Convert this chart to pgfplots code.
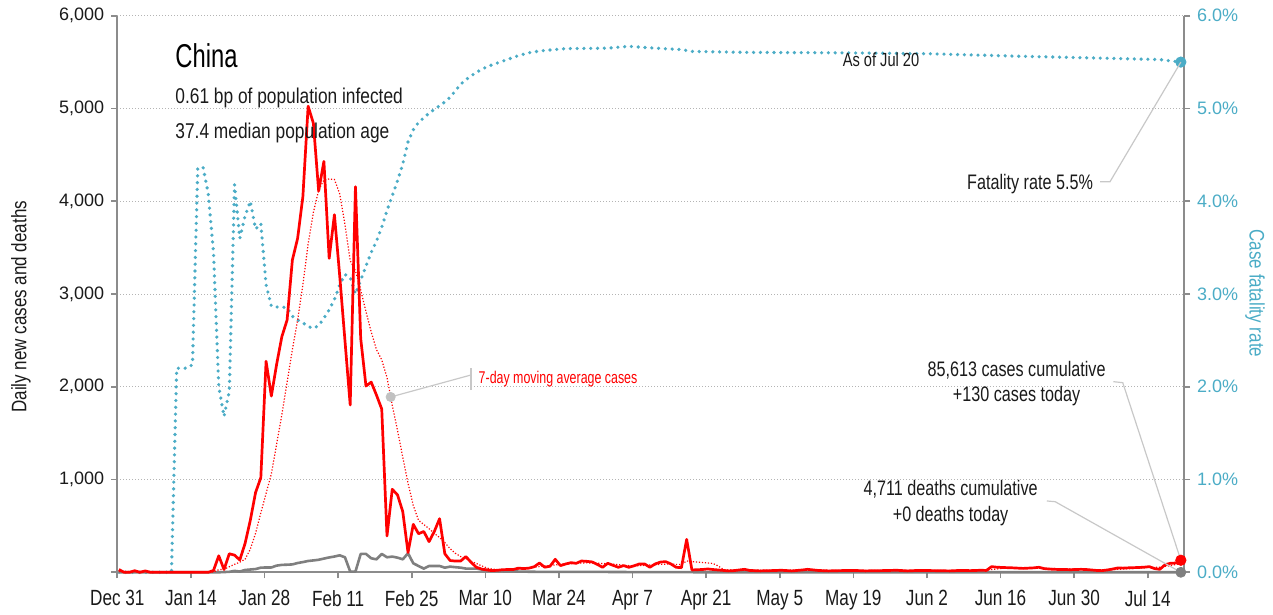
\documentclass[border=0pt]{standalone}
\usepackage{fontspec}
\setmainfont{Liberation Sans}
\newfontfamily\cond[FakeStretch=0.77]{Liberation Sans}
\newfontfamily\condn[FakeStretch=0.73]{Liberation Sans}
\newfontfamily\condw[FakeStretch=0.81]{Liberation Sans}
\newfontfamily\condx[FakeStretch=0.78]{Liberation Sans}
\newfontfamily\condt[FakeStretch=0.72]{Liberation Sans}
\usepackage{pgfplots}
\pgfplotsset{compat=1.18}
\definecolor{axgray}{HTML}{8C8C8C}
\definecolor{gridgray}{HTML}{B4B4B4}
\definecolor{tealc}{HTML}{4BACC6}
\definecolor{txt}{HTML}{1A1A1A}
\definecolor{deathc}{HTML}{7F7F7F}
\definecolor{conn}{HTML}{C8C8C8}
\begin{document}
\begin{tikzpicture}
\path[use as bounding box] (-58.65pt,-21.35pt) rectangle (577.85pt,286.15pt);
% ---------- right axis: case fatality rate ----------
\begin{axis}[
  at={(0,0)}, anchor=south west, scale only axis,
  width=533.35pt, height=278.3pt,
  xmin=-0.3, xmax=202.6, ymin=0, ymax=6,
  axis x line=none, axis y line*=right,
  clip=false,
  ytick={0,1,2,3,4,5,6},
  yticklabels={0.0\%,1.0\%,2.0\%,3.0\%,4.0\%,5.0\%,6.0\%},
  yticklabel style={font=\fontsize{9}{10}\selectfont, text=tealc},
  tick align=outside, major tick length=3pt,
  tick style={draw=axgray, line width=0.8pt},
  axis line style={draw=axgray, line width=0.9pt},
  ymajorgrids, grid style={draw=gridgray, line width=0.5pt, dash pattern=on 0.5pt off 1pt},
]
\addplot[tealc, line width=1.8pt, dash pattern=on 0pt off 3.4pt, line cap=round] coordinates {
(0,0)(10,0)(11,2.2)(12,2.2)(13,2.2)(14,2.24)(15,4.35)(16,4.37)(17,4.08)(18,3.45)(19,2.0)(20,1.68)(21,1.95)(22,4.18)(23,3.6)(24,3.84)(25,4.0)(26,3.7)(27,3.76)(28,3.1)(29,2.87)(30,2.86)(31,2.86)(32,2.85)(33,2.76)(34,2.72)(35,2.69)(36,2.65)(37,2.63)(38,2.66)(39,2.74)(40,2.83)(41,2.94)(42,3.1)(43,3.21)(44,3.18)(45,3.0)(46,3.15)(47,3.30)(48,3.45)(49,3.57)(50,3.72)(51,3.90)(52,4.06)(53,4.22)(54,4.40)(55,4.64)(56,4.77)(57,4.85)(58,4.90)(59,4.95)(60,4.99)(61,5.03)(62,5.07)(63,5.12)(64,5.19)(65,5.26)(66,5.31)(67,5.35)(68,5.39)(69,5.42)(70,5.45)(71,5.47)(72,5.49)(73,5.51)(74,5.53)(76,5.57)(78,5.60)(80,5.62)(85,5.645)(93,5.65)(97,5.67)(102,5.65)(107,5.635)(109,5.615)(119,5.605)(137,5.60)(154,5.59)(172,5.562)(185,5.545)(198,5.527)(202,5.50)
};
\addplot[only marks, mark=*, mark size=2.6pt, tealc] coordinates {(202,5.5)};
\node[rotate=-90, text=tealc, font=\condw\fontsize{10.5}{12}\selectfont, anchor=center]
  at ([xshift=35.5pt]rel axis cs:1,0.501) {Case fatality rate};
\end{axis}
% ---------- left axis: daily cases and deaths ----------
\begin{axis}[
  at={(0,0)}, anchor=south west, scale only axis,
  width=533.35pt, height=278.3pt,
  xmin=-0.3, xmax=202.6, ymin=0, ymax=6000,
  axis x line*=bottom, axis y line*=left,
  clip=false,
  xtick={-0.3,13.7,27.7,41.7,55.7,69.7,83.7,97.7,111.7,125.7,139.7,153.7,167.7,181.7,195.7},
  xticklabels={Dec 31,Jan 14,Jan 28,Feb 11,Feb 25,Mar 10,Mar 24,Apr 7,Apr 21,May 5,May 19,Jun 2,Jun 16,Jun 30,Jul 14},
  xticklabel style={font=\condx\fontsize{11}{12}\selectfont, text=txt, yshift=-2.5pt},
  ytick={0,1000,2000,3000,4000,5000,6000},
  yticklabels={{},{1,000},{2,000},{3,000},{4,000},{5,000},{6,000}},
  yticklabel style={font=\fontsize{9}{10}\selectfont, text=txt},
  tick align=outside, major tick length=3pt,
  tick style={draw=axgray, line width=0.8pt},
  axis line style={draw=axgray, line width=0.9pt},
]
% deaths
\addplot[deathc, line width=1.3pt, line join=round] coordinates {
(0,0)(19,0)(20,3)(21,5)(22,15)(23,8)(24,25)(25,30)(26,35)(27,50)(28,52)(29,52)(30,72)(31,80)(32,82)(33,85)(34,100)(35,110)(36,122)(37,128)(38,135)(39,148)(40,160)(41,170)(42,183)(43,162)(44,8)(45,8)(46,198)(47,198)(48,151)(49,140)(50,198)(51,162)(52,169)(53,158)(54,140)(55,205)(56,97)(57,68)(58,40)(59,68)(60,68)(61,68)(62,50)(63,61)(64,55)(65,50)(66,40)(67,40)(68,40)(69,30)(70,25)(71,20)(72,15)(73,12)(74,10)(75,10)(76,8)(77,8)(78,6)(80,5)(85,5)(90,5)(95,3)(100,2)(110,1)(120,0)(202,0)
};
% 7-day moving average of cases
\addplot[red, line width=0.6pt, dash pattern=on 0.6pt off 0.9pt] coordinates {
(0,8)(5,8)(9,6)(10,2)(11,0)(17,0)(18,3)(19,28)(20,32)(21,60)(22,86)(23,110)(24,140)(25,250)(26,420)(27,640)(28,850)(29,1060)(30,1380)(31,1700)(32,2050)(33,2400)(34,2720)(35,3100)(36,3540)(37,3880)(38,4120)(39,4230)(40,4240)(41,4235)(42,4080)(43,3750)(44,3360)(45,3250)(46,3043)(47,2810)(48,2590)(49,2400)(50,2290)(51,2100)(52,1800)(53,1530)(54,1240)(55,960)(56,720)(57,560)(58,515)(59,470)(60,420)(61,375)(62,320)(63,255)(64,205)(65,170)(66,148)(67,120)(68,95)(69,70)(70,45)(71,35)(72,28)(73,27)(74,28)(75,30)(76,35)(77,40)(78,45)(79,55)(80,62)(81,68)(82,73)(83,80)(84,85)(85,88)(86,92)(87,96)(88,100)(89,102)(90,100)(91,98)(92,95)(93,92)(94,88)(95,82)(96,76)(97,72)(98,70)(99,72)(100,75)(101,78)(102,80)(103,85)(104,88)(105,90)(106,85)(107,85)(108,122)(109,115)(110,110)(111,105)(112,100)(113,95)(114,68)(115,30)(116,25)(120,22)(130,22)(140,20)(150,20)(160,20)(165,22)(166,30)(168,42)(172,50)(176,42)(180,38)(184,30)(188,25)(190,32)(194,45)(196,52)(198,55)(200,72)(202,95)
};
% daily cases
\addplot[red, line width=1.35pt, line join=round] coordinates {
(0,30)(1,0)(2,0)(3,17)(4,0)(5,15)(6,0)(17,0)(18,20)(19,178)(20,30)(21,200)(22,185)(23,133)(24,310)(25,560)(26,860)(27,1020)(28,2275)(29,1900)(30,2240)(31,2540)(32,2720)(33,3366)(34,3600)(35,4050)(36,5025)(37,4840)(38,4110)(39,4430)(40,3384)(41,3855)(42,3200)(43,2500)(44,1804)(45,4157)(46,2520)(47,2008)(48,2050)(49,1910)(50,1760)(51,392)(52,895)(53,834)(54,654)(55,213)(56,517)(57,416)(58,440)(59,331)(60,440)(61,578)(62,200)(63,127)(64,121)(65,121)(66,170)(67,107)(68,54)(69,35)(70,25)(71,18)(72,22)(73,28)(74,30)(75,30)(76,45)(77,40)(78,45)(79,60)(80,100)(81,55)(82,65)(83,140)(84,72)(85,90)(86,104)(87,97)(88,122)(89,118)(90,112)(91,85)(92,54)(93,97)(94,75)(95,54)(96,72)(97,54)(98,70)(99,90)(100,90)(101,54)(102,90)(103,110)(104,115)(105,90)(106,54)(107,50)(108,355)(109,25)(110,28)(111,30)(112,36)(113,30)(114,25)(115,20)(116,15)(117,18)(118,25)(119,32)(120,20)(122,15)(124,18)(126,22)(128,15)(130,25)(131,32)(133,20)(135,15)(137,18)(140,20)(142,15)(145,18)(148,22)(150,15)(152,20)(155,18)(158,15)(160,20)(162,18)(164,22)(165,20)(166,61)(167,55)(168,52)(169,50)(170,48)(171,45)(172,42)(173,45)(174,48)(175,54)(176,40)(177,35)(178,32)(179,30)(180,30)(181,28)(182,30)(183,32)(184,30)(185,25)(186,20)(187,18)(188,25)(189,35)(190,47)(191,45)(192,48)(193,50)(194,52)(195,55)(196,61)(197,40)(198,32)(199,82)(200,97)(201,100)(202,130)
};
% end markers
\addplot[only marks, mark=*, mark size=2.5pt, deathc] coordinates {(202,0)};
\addplot[only marks, mark=*, mark size=2.6pt, red] coordinates {(202,130)};
\addplot[only marks, mark=*, mark size=2.3pt, conn!90!gray] coordinates {(51.7,1890)};
% annotation connectors
\draw[conn, line width=0.6pt] (axis cs:51.7,1890) -- (axis cs:66.98,2127);
\draw[conn, line width=0.7pt] (axis cs:66.98,1965) -- (axis cs:66.98,2199);
\draw[conn, line width=0.6pt] (axis cs:186.63,4211) -- (axis cs:188.53,4211) -- (axis cs:202,5500);
\draw[conn, line width=0.6pt] (axis cs:189.16,2055) -- (axis cs:190.95,2044) -- (axis cs:202,130);
\draw[conn, line width=0.6pt] (axis cs:176.5,769) -- (axis cs:178.1,761) -- (axis cs:202,0);
% texts
\node[anchor=base west, inner sep=0, text=red, font=\condn\fontsize{8.5}{10}\selectfont] at (axis cs:68.37,2037) {7-day moving average cases};
\node[anchor=base west, inner sep=0, text=black, font=\condt\fontsize{16.5}{18}\selectfont] at (axis cs:10.68,5444) {China};
\node[anchor=base west, inner sep=0, text=txt, font=\condw\fontsize{10.7}{12}\selectfont] at (axis cs:10.68,5056) {0.61 bp of population infected};
\node[anchor=base west, inner sep=0, text=txt, font=\condw\fontsize{10.7}{12}\selectfont] at (axis cs:10.68,4671) {37.4 median population age};
\node[anchor=base, inner sep=0, text=txt, font=\cond\fontsize{9.5}{11}\selectfont] at (axis cs:144.97,5451) {As of Jul 20};
\node[anchor=base east, inner sep=0, text=txt, font=\cond\fontsize{10.5}{12}\selectfont] at (axis cs:185.36,4129) {Fatality rate 5.5\%};
\node[anchor=base, inner sep=0, text=txt, font=\cond\fontsize{10.5}{12}\selectfont] at (axis cs:170.75,2109) {85,613 cases cumulative};
\node[anchor=base, inner sep=0, text=txt, font=\cond\fontsize{10.5}{12}\selectfont] at (axis cs:170.75,1839) {+130 cases today};
\node[anchor=base, inner sep=0, text=txt, font=\cond\fontsize{10.5}{12}\selectfont] at (axis cs:158.2,826) {4,711 deaths cumulative};
\node[anchor=base, inner sep=0, text=txt, font=\cond\fontsize{10.5}{12}\selectfont] at (axis cs:158.2,553) {+0 deaths today};
\node[rotate=90, text=txt, font=\condw\fontsize{10.5}{12}\selectfont, anchor=center]
  at ([xshift=-48.15pt]rel axis cs:0,0.477) {Daily new cases and deaths};
\end{axis}
\end{tikzpicture}
\end{document}
